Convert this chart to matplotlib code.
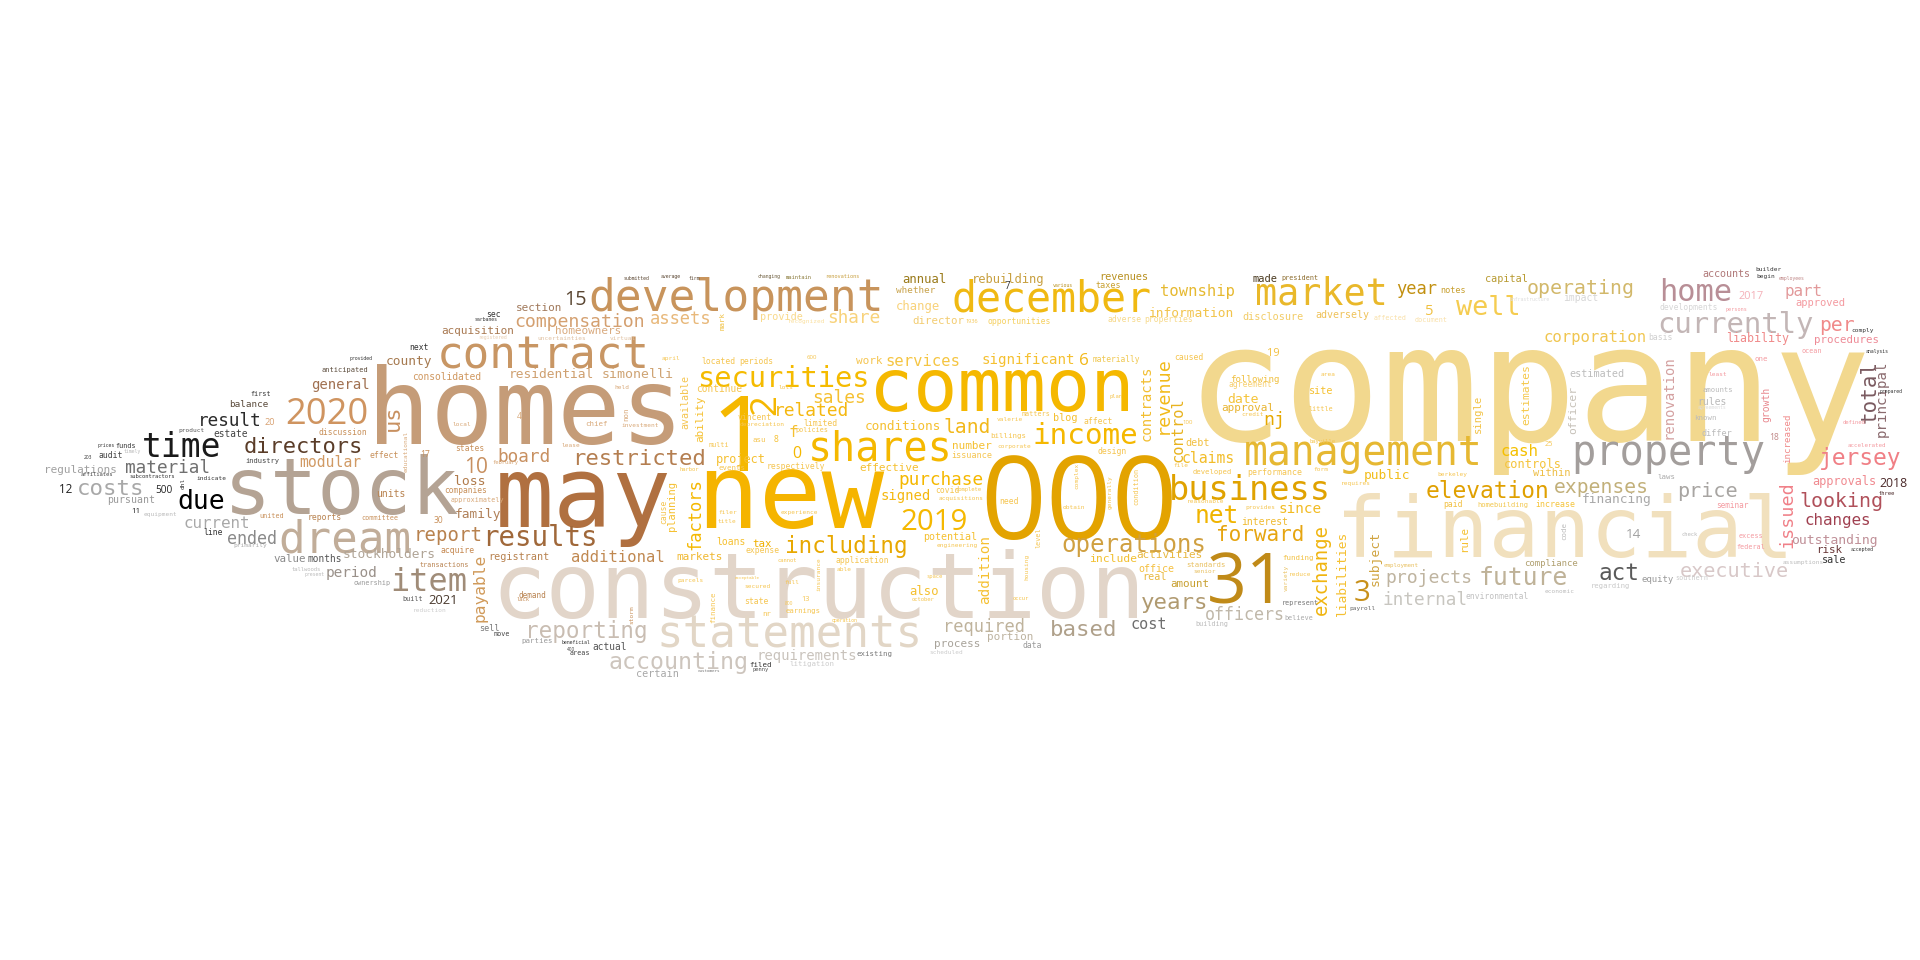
import matplotlib
matplotlib.use("Agg")
import matplotlib.pyplot as plt

# ---------------- data: words and their weights (font em, in layout units) ----------------
frequency = {
    "company": 133, "financial": 69, "construction": 74, "homes": 86, "stock": 64, "may": 80,
    "new": 85, "000": 94, "common": 60, "1": 86, "2": 30, "31": 57,
    "development": 36.5, "december": 34, "statements": 36, "contract": 36, "dream": 36,
    "shares": 32.7, "management": 32.5, "property": 33, "market": 30, "2020": 29.6,
    "business": 27.5, "time": 27, "item": 26, "securities": 23.5, "income": 24, "2019": 24,
    "currently": 23.6, "home": 24.8, "3": 24, "results": 22.5, "due": 21.6, "well": 22,
    "net": 20, "operations": 19.6, "future": 20.2, "reporting": 18.5, "accounting": 19,
    "including": 18.5, "elevation": 18.7, "jersey": 18.7, "directors": 18, "restricted": 18.2,
    "costs": 18.3, "years": 18.3, "based": 18.3, "act": 18.5, "forward": 17.2, "us": 18,
    "10": 17, "per": 16, "looking": 16.3, "price": 16.4, "expenses": 16, "executive": 16.4,
    "operating": 16.2, "report": 15.5, "exchange": 15.4, "revenue": 15, "total": 17,
    "issued": 15, "compensation": 14.8, "15": 16, "land": 16, "material": 14.5, "result": 14.4,
    "sales": 14.6, "related": 14.6, "purchase": 14.5, "share": 14.5, "assets": 14, "board": 14.5,
    "year": 14, "required": 13.9, "factors": 14, "projects": 14.8, "internal": 14.5,
    "officers": 13.6, "ended": 13.6, "current": 13, "payable": 13.3, "changes": 13, "cash": 13,
    "corporation": 12.8, "township": 12.7, "services": 12.7, "additional": 12.7, "control": 12.6,
    "cost": 12.4, "modular": 12, "claims": 12, "since": 11.7, "period": 11.7, "significant": 11.5,
    "addition": 11.6, "contracts": 11.3, "principal": 11.5, "renovation": 11.3,
    "requirements": 11.3, "signed": 11.3, "general": 11.3, "6": 14, "0": 13, "nj": 15,
    "information": 10.5, "residential": 10.5, "simonelli": 10.8, "county": 10.5, "family": 10.5,
    "stockholders": 10.5, "2021": 10.6, "loss": 10.6, "public": 10.5, "date": 10.7,
    "outstanding": 10.7, "liabilities": 10.5, "subject": 10.6, "conditions": 10.4,
    "financing": 10.5, "change": 10, "annual": 10, "rebuilding": 9.9, "also": 10, "2018": 10,
    "approvals": 9.7, "project": 9.7, "controls": 9.8, "section": 9, "acquisition": 9,
    "homeowners": 9, "regulations": 9, "markets": 9, "effective": 9, "approval": 9,
    "activities": 9, "number": 9, "process": 9, "portion": 9, "value": 8.9, "amount": 8.9,
    "risk": 8.9, "rule": 8.9, "liability": 9.5, "procedures": 8.8, "director": 8.8, "tax": 8.8,
    "estimates": 9.2, "officer": 9.3, "include": 9.3, "ability": 9, "single": 8.6, "within": 8.5,
    "approved": 8.5, "part": 13, "taxes": 7, "revenues": 8.4, "made": 8.5, "capital": 8.3,
    "accounts": 8.2, "disclosure": 8.3, "adversely": 8.2, "estimated": 8.3, "blog": 8.3,
    "site": 8.3, "debt": 8.3, "provide": 8.3, "available": 8.2, "potential": 8.2,
    "registrant": 8.3, "certain": 8.3, "500": 8.3, "office": 8.2, "real": 8.3, "pursuant": 8.1,
    "continue": 7.8, "loans": 8, "units": 8, "interest": 8, "consolidated": 7.9, "planning": 8.5,
    "estate": 7.8, "months": 7.8, "actual": 7.8, "balance": 7.6, "following": 7.5,
    "increased": 7.5, "compliance": 7.4, "equity": 7.4, "whether": 7.7, "rules": 8, "sell": 7,
    "20": 7.5, "18": 7, "14": 11, "12": 9.5, "5": 12, "19": 9, "f": 13, "8": 7, "asu": 6,
    "vincent": 6.6, "limited": 6.6, "respectively": 6.5, "located": 6.5, "periods": 6.5,
    "work": 9, "opportunities": 6.6, "materially": 6.4, "affect": 6.6, "design": 6.6,
    "caused": 6.6, "performance": 6.7, "developed": 5.9, "paid": 6.5, "homebuilding": 5.8,
    "increase": 6.7, "laws": 6, "seminar": 6.3, "amounts": 5.9, "known": 6, "differ": 7,
    "impact": 8, "developments": 6.5, "2017": 9, "basis": 6.6, "ocean": 5.5, "one": 6,
    "growth": 8, "25": 6, "accelerated": 4.8, "comply": 5, "regarding": 5.9,
    "environmental": 6.5, "standards": 5.9, "funding": 6, "payroll": 5, "earnings": 5.9,
    "state": 6.6, "13": 6, "expense": 6.5, "application": 6.5, "finance": 6, "data": 6.5,
    "existing": 6, "litigation": 6, "filed": 6, "sec": 6.5, "next": 6.5, "anticipated": 5.7,
    "discussion": 6.5, "effect": 6.6, "industry": 5.8, "audit": 6.6, "funds": 5.5,
    "product": 5, "first": 5.5, "11": 6.5, "line": 6.5, "states": 6.5, "17": 7,
    "companies": 6.4, "reports": 6.6, "committee": 5.5, "30": 7, "acquire": 6.6, "demand": 6.2,
    "transactions": 5.5, "ownership": 5.5, "built": 5.5, "move": 5.5, "parties": 6,
    "areas": 5.5, "primarily": 5, "approximately": 5.5, "united": 5.5, "equipment": 5,
    "chief": 6, "4": 7, "provided": 4, "sarbanes": 4, "uncertainties": 5, "virtual": 5,
    "registered": 4, "mark": 6, "recognized": 5, "billings": 6, "corporate": 5, "issuance": 7,
    "need": 6.5, "covid": 6.5, "events": 6, "harbor": 4.5, "cause": 6.5, "filer": 5,
    "title": 5, "experience": 5, "engineering": 5, "level": 5.5, "housing": 5, "october": 4.5,
    "occur": 4.5, "space": 4.5, "believe": 5.5, "building": 5.5, "represent": 5.5,
    "senior": 5, "variety": 5, "reduce": 5, "employment": 4.8, "economic": 5, "code": 6,
    "southern": 5.5, "check": 4.5, "excess": 5.5, "federal": 5.5, "sale": 8.3,
    "assumptions": 5, "accepted": 4, "requires": 5, "berkeley": 5, "reasonable": 5,
    "provides": 5, "obtain": 5, "condition": 5.5, "generally": 5, "complex": 5, "file": 5,
    "form": 5, "bayville": 4.5, "credit": 5, "agreement": 6.5, "little": 5.5, "area": 5,
    "plan": 4.5, "100": 5, "adverse": 6.5, "properties": 6.5, "affected": 5.5, "document": 5.5,
    "policies": 5.5, "depreciation": 5, "lots": 5, "april": 5, "600": 5, "1936": 4.5,
    "valerie": 5, "matters": 5.5, "multi": 5.5, "complete": 4.5, "acquisitions": 5,
    "investment": 5, "non": 6, "held": 5, "lease": 5, "february": 4.5, "local": 5,
    "educational": 5, "tallwoods": 4.5, "present": 4, "reduction": 5, "storm": 5, "lack": 4.5,
    "400": 4, "beneficial": 4, "scheduled": 5, "penny": 4.5, "customers": 3.5,
    "insurance": 5, "secured": 5, "parcels": 5, "full": 5, "cannot": 4.5, "able": 5,
    "acceptable": 3.5, "800": 4, "nr": 6, "operation": 4, "prices": 4, "203": 4,
    "affiliates": 4.5, "subcontractors": 4.5, "indicate": 5, "timely": 4, "dhl": 5,
    "submitted": 4, "average": 4, "firm": 4, "changing": 4, "maintain": 4.5,
    "renovations": 4.3, "7": 8, "various": 4, "president": 5.5, "notes": 6.9, "builder": 5,
    "begin": 5, "employees": 4, "persons": 4.2, "infrastructure": 4, "analysis": 4,
    "prepared": 4, "three": 4.5, "defined": 4.5, "least": 5, "agreements": 4,
}
words = list(frequency.keys())

# ---------------- style: colour of each word ----------------
GOLD_S = "#F5C550"
colors = {
    "company": "#F2D88E", "financial": "#F1E0BD", "construction": "#E2D5C9", "homes": "#C59C78",
    "stock": "#B4A394", "may": "#B07040", "new": "#F5B400", "000": "#E3A300", "common": "#F5B800",
    "1": "#F5B800", "2": "#F5B800", "31": "#C08A18", "development": "#C8945C",
    "december": "#F0B912", "statements": "#E2D6C6", "contract": "#C89664", "dream": "#C1AD99",
    "shares": "#F5B800", "management": "#E6B832", "property": "#A39E9C", "market": "#E9B82A",
    "2020": "#CF9460", "business": "#E0A200", "time": "#1A1A1A", "item": "#A08C78",
    "securities": "#F5BB00", "income": "#F5B800", "2019": "#F5B800", "currently": "#C3B6B6",
    "home": "#B88E96", "3": "#C8901A", "results": "#A0683A", "due": "#000000", "well": "#F5CC50",
    "net": "#F0B400", "operations": "#D0A040", "future": "#BFB298", "reporting": "#C9BDB2",
    "accounting": "#CDC5BD", "including": "#E8A800", "elevation": "#E0A000", "jersey": "#F07F85",
    "directors": "#5A3C28", "restricted": "#B47E50", "costs": "#A8A8A8", "years": "#B09A70",
    "based": "#AFA08A", "act": "#5A5A5A", "forward": "#E6A510", "us": "#C89060", "10": "#C89060",
    "per": "#F08A8A", "looking": "#B0505A", "price": "#A8A5A2", "expenses": "#C2B07A",
    "executive": "#D8C8C8", "operating": "#D2B86A", "report": "#B8824F", "exchange": "#F0B510",
    "revenue": "#F2BA1A", "total": "#7A5A60", "issued": "#F08088", "compensation": "#D4A070",
    "15": "#5A4632", "land": "#F2B81A", "material": "#707070", "result": "#2A2A2A",
    "sales": "#F5C030", "related": "#F5B810", "purchase": "#F5B800", "share": "#F8D27A",
    "assets": "#E8B87A", "board": "#C89060", "year": "#C29010", "required": "#BFB39C",
    "factors": "#F5B800", "projects": "#BFB4A0", "internal": "#C8C6C0", "officers": "#C0B8AA",
    "ended": "#8A8A8A", "current": "#A8A8A8", "payable": "#D09A5A", "changes": "#A04050",
    "cash": "#F5C000", "corporation": "#F0C650", "township": "#E6B930", "services": "#F5C542",
    "additional": "#C08850", "control": "#E8B320", "cost": "#6E6E6E", "modular": "#D19A64",
    "claims": "#F2BD2A", "since": "#F2BB22", "period": "#9A918A", "significant": "#F5C030",
    "addition": "#F5C030", "contracts": "#F2BE30", "principal": "#8A6A6E",
    "renovation": "#D4A0A0", "requirements": "#C9C3BC", "signed": "#F5B810",
    "general": "#A07050", "6": "#F2B81A", "0": "#F5B800", "nj": "#E6A800",
    "information": "#F2C44C", "residential": "#CFA070", "simonelli": "#CFA474",
    "county": "#A67A50", "family": "#B08058", "stockholders": "#B0A496", "2021": "#4A3A2E",
    "loss": "#B07A4A", "public": "#F2BD1A", "date": "#F5C43A", "outstanding": "#C09098",
    "liabilities": "#F5C030", "subject": "#D0A440", "conditions": "#F5C030",
    "financing": "#A9A9A9", "change": "#F8D27A", "annual": "#9A7A1A", "rebuilding": "#C8A040",
    "also": "#F5C030", "2018": "#4A2828", "approvals": "#F08A90", "project": "#F5C030",
    "controls": "#F5C43A", "section": "#A0785A", "acquisition": "#A87850",
    "homeowners": "#D9AA7E", "regulations": "#A0A0A0", "markets": "#F0B830",
    "effective": "#F5C030", "approval": "#E8B430", "activities": "#E8B840", "number": "#F5C030",
    "process": "#A8A39A", "portion": "#BDB3A0", "value": "#8A8A8A", "amount": "#C8A030",
    "risk": "#6A3838", "rule": "#F5C030", "liability": "#F08A8A", "procedures": "#EE8A96",
    "director": "#F3CC70", "tax": "#F0B000", "estimates": "#F5C84A", "officer": "#C6C1B8",
    "include": "#F2C030", "ability": "#F5C030", "single": "#F2C243", "within": "#EDBE45",
    "approved": "#F49AA0", "part": "#E2999A", "taxes": "#C8A030", "revenues": "#B89020",
    "made": "#4A3A20", "capital": "#B89A30", "accounts": "#B07878", "disclosure": "#F2CC66",
    "adversely": "#EFC259", "estimated": "#BDBDBD", "blog": "#F5C030", "site": "#F5C030",
    "debt": "#F2C040", "provide": "#F9D98A", "available": GOLD_S, "potential": "#F5C030",
    "registrant": "#B8824F", "certain": "#A8A8A8", "500": "#222222", "office": "#F5C040",
    "real": "#E8B840", "pursuant": "#999999", "continue": GOLD_S, "loans": "#F5C030",
    "units": "#B8824F", "interest": "#F0BA2E", "consolidated": "#D09860", "planning": "#F5C030",
    "estate": "#444444", "months": "#555555", "actual": "#555555", "balance": "#5A4A3A",
    "following": "#F0C040", "increased": "#F08A8A", "compliance": "#B0A070",
    "equity": "#999999", "whether": "#C8A24A", "rules": "#B9B9B9", "sell": "#7A7A7A",
    "20": "#D8A070", "18": "#C08888", "14": "#A0A0A0", "12": "#222222", "5": "#F0C040",
    "19": "#F2C040", "f": "#F5C030", "8": "#F5C030", "paid": "#F2C040", "homebuilding": "#F2C850",
    "increase": "#F5C43A", "laws": "#AAAAAA", "seminar": "#F49AA0", "amounts": "#BBBBBB",
    "known": "#BBBBBB", "differ": "#BBBBBB", "impact": "#D6D6D6", "developments": "#D6D6D6",
    "2017": "#F4B0B8", "basis": "#D0D0D0", "ocean": "#F49AA0", "one": "#F49AA0",
    "growth": "#E8878E", "accelerated": "#F49AA0", "comply": "#333333", "regarding": "#C8C8C8",
    "environmental": "#C0C0C0", "standards": "#E8C060", "funding": "#F2C040",
    "payroll": "#666666", "data": "#999999", "existing": "#777777", "litigation": "#CCCCCC",
    "filed": "#333333", "sec": "#333333", "next": "#333333", "anticipated": "#5A4A3A",
    "discussion": "#C8905A", "effect": "#C8905A", "industry": "#444444", "audit": "#444444",
    "funds": "#333333", "product": "#555555", "first": "#333333", "11": "#222222",
    "line": "#333333", "states": "#C8905A", "17": "#C8905A", "companies": "#C8905A",
    "reports": "#B8824F", "committee": "#C8905A", "30": "#C8905A", "acquire": "#C58850",
    "demand": "#B8824F", "transactions": "#B8824F", "ownership": "#999999", "built": "#555555",
    "move": "#444444", "parties": "#999999", "areas": "#444444", "primarily": "#AAAAAA",
    "approximately": "#D8A878", "united": "#C8905A", "equipment": "#BBBBBB", "chief": "#D8A878",
    "4": "#D8A878", "provided": "#333333", "sarbanes": "#333333", "uncertainties": "#E0C0A0",
    "virtual": "#E0C0A0", "registered": "#E8CDB0", "mark": "#F0C040", "recognized": "#FAE0A0",
    "believe": "#AAAAAA", "building": "#BBBBBB", "represent": "#777777", "senior": "#E8C060",
    "variety": "#E8C060", "employment": "#E8C060", "economic": "#BBBBBB", "code": "#BBBBBB",
    "southern": "#CCCCCC", "check": "#BBBBBB", "excess": "#F49AA0", "federal": "#F49AA0",
    "sale": "#333333", "assumptions": "#BBBBBB", "accepted": "#333333", "investment": "#D8A878",
    "non": "#D8A878", "held": "#D8A878", "lease": "#D8A878", "february": "#D8A878",
    "local": "#D8A878", "educational": "#D8A878", "tallwoods": "#BBBBBB", "present": "#BBBBBB",
    "reduction": "#CCCCCC", "storm": "#C8905A", "lack": "#C8905A", "400": "#444444",
    "beneficial": "#333333", "scheduled": "#CCCCCC", "penny": "#555555", "customers": "#777777",
    "prices": "#333333", "203": "#333333", "affiliates": "#444444", "subcontractors": "#333333",
    "indicate": "#333333", "timely": "#BBBBBB", "dhl": "#333333", "submitted": "#5A4632",
    "average": "#5A4632", "firm": "#5A4632", "changing": "#6A5A3A", "maintain": "#8A7A3A",
    "renovations": "#C8A040", "7": "#333333", "various": "#B89020", "president": "#8A6A2A",
    "notes": "#C8A030", "builder": "#333333", "begin": "#333333", "employees": "#C08888",
    "persons": "#F49AA0", "infrastructure": "#DDDDDD", "analysis": "#333333",
    "prepared": "#333333", "three": "#4A2828", "defined": "#F49AA0", "least": "#F49AA0",
    "agreements": "#DDDDDD", "adverse": "#F7D98A", "properties": "#F7D98A",
    "affected": "#F9E0A8", "document": "#F9E0A8", "agreement": "#F7D070", "opportunities": "#F5D060",
    "materially": "#F0C850",
}

# ---------------- layout: anchor (baseline centre) in reference grid units, rotation ----------------
layout = {
    "company": (1248, 360, 0), "financial": (1278, 455, 0), "construction": (668, 505, 0),
    "homes": (429, 363, 0), "stock": (279, 420, 0), "may": (476, 430, 0), "new": (645, 431, 0),
    "000": (881, 440, 0), "common": (818, 336, 0), "1": (605, 385, 0), "2": (633, 330, 90),
    "31": (1018, 493, 0), "development": (601, 254, 0), "december": (859, 254, 0),
    "statements": (645, 529, 0), "contract": (444, 301, 0), "dream": (282, 451, 0),
    "shares": (719, 376, 0), "management": (1113, 380, 0), "property": (1362, 380, 0),
    "market": (1079, 249, 0), "2020": (267, 346, 0), "business": (1021, 408, 0),
    "time": (148, 373, 0), "item": (350, 483, 0), "securities": (640, 316, 0),
    "income": (886, 363, 0), "2019": (763, 433, 0), "currently": (1417, 272, 0),
    "home": (1385, 246, 0), "3": (1112, 491, 0), "results": (441, 446, 0), "due": (164, 416, 0),
    "well": (1215, 257, 0), "net": (994, 427, 0), "operations": (926, 451, 0),
    "future": (1244, 478, 0), "reporting": (479, 521, 0), "accounting": (554, 546, 0),
    "including": (691, 452, 0), "elevation": (1215, 407, 0), "jersey": (1519, 380, 0),
    "directors": (248, 370, 0), "restricted": (522, 380, 0), "costs": (90, 404, 0),
    "years": (959, 497, 0), "based": (885, 519, 0), "act": (1322, 474, 0),
    "forward": (1029, 442, 0), "us": (326, 341, 90), "10": (389, 386, 0), "per": (1500, 270, 0),
    "looking": (1504, 414, 0), "price": (1394, 406, 0), "expenses": (1308, 403, 0),
    "executive": (1416, 471, 0), "operating": (1291, 240, 0), "report": (366, 442, 0),
    "exchange": (1084, 465, 90), "revenue": (954, 323, 90), "total": (1532, 320, 90),
    "issued": (1464, 420, 90), "compensation": (473, 267, 0), "15": (470, 249, 0),
    "land": (790, 354, 0), "material": (137, 386, 0), "result": (188, 348, 0),
    "sales": (685, 329, 0), "related": (663, 340, 0), "purchase": (768, 396, 0),
    "share": (697, 264, 0), "assets": (556, 265, 0), "board": (428, 377, 0),
    "year": (1157, 240, 0), "required": (804, 516, 0), "factors": (572, 420, 90),
    "projects": (1167, 476, 0), "internal": (1164, 494, 0), "officers": (1017, 506, 0),
    "ended": (206, 444, 0), "current": (177, 431, 0), "payable": (396, 480, 90),
    "changes": (1501, 429, 0), "cash": (1241, 372, 0), "corporation": (1303, 279, 0),
    "township": (978, 242, 0), "services": (754, 299, 0), "additional": (505, 459, 0),
    "control": (966, 351, 90), "cost": (938, 514, 0), "modular": (270, 381, 0),
    "claims": (987, 378, 0), "since": (1062, 419, 0), "period": (287, 471, 0),
    "significant": (840, 297, 0), "addition": (808, 465, 90), "contracts": (940, 329, 90),
    "principal": (1540, 326, 90), "renovation": (1366, 324, 90), "requirements": (659, 539, 0),
    "signed": (740, 408, 0), "general": (278, 318, 0), "6": (885, 298, 0), "0": (651, 374, 0),
    "nj": (1041, 347, 0), "information": (973, 259, 0), "residential": (450, 309, 0),
    "simonelli": (521, 309, 0), "county": (334, 298, 0), "family": (390, 423, 0),
    "stockholders": (318, 456, 0), "2021": (362, 493, 0), "loss": (384, 396, 0),
    "public": (1133, 391, 0), "date": (1015, 329, 0), "outstanding": (1498, 444, 0),
    "liabilities": (1099, 468, 90), "subject": (1126, 456, 90), "conditions": (737, 351, 0),
    "financing": (1320, 411, 0), "change": (750, 253, 0), "annual": (755, 231, 0),
    "rebuilding": (823, 231, 0), "also": (755, 486, 0), "2018": (1546, 398, 0),
    "approvals": (1506, 396, 0), "project": (605, 378, 0), "controls": (1252, 382, 0),
    "section": (440, 254, 0), "acquisition": (390, 273, 0), "homeowners": (480, 273, 0),
    "regulations": (66, 386, 0), "markets": (571, 457, 0), "effective": (726, 385, 0),
    "approval": (1019, 336, 0), "activities": (955, 456, 0), "number": (794, 367, 0),
    "process": (782, 528, 0), "portion": (825, 523, 0), "value": (237, 459, 0),
    "amount": (972, 479, 0), "risk": (1494, 452, 0), "rule": (1198, 440, 90),
    "liability": (1435, 279, 0), "procedures": (1508, 280, 0), "director": (766, 265, 0),
    "tax": (622, 447, 0), "estimates": (1249, 322, 90), "officer": (1287, 335, 90),
    "include": (909, 459, 0), "ability": (574, 342, 90), "single": (1209, 338, 90),
    "within": (1267, 389, 0), "approved": (1487, 250, 0), "part": (1473, 242, 0),
    "taxes": (905, 235, 0), "revenues": (918, 229, 0), "made": (1033, 230, 0),
    "capital": (1230, 230, 0), "accounts": (1410, 226, 0), "disclosure": (1040, 261, 0),
    "adversely": (1096, 260, 0), "estimated": (1304, 308, 0), "blog": (870, 344, 0),
    "site": (1079, 322, 0), "debt": (978, 364, 0), "provide": (638, 261, 0),
    "available": (562, 328, 90), "potential": (776, 441, 0), "registrant": (424, 457, 0),
    "certain": (537, 553, 0), "500": (134, 403, 0), "office": (944, 467, 0),
    "real": (943, 474, 0), "pursuant": (107, 411, 0), "continue": (587, 320, 0),
    "loans": (597, 445, 0), "units": (319, 406, 0), "interest": (1033, 429, 0),
    "consolidated": (365, 310, 0), "planning": (551, 413, 90), "estate": (188, 357, 0),
    "months": (265, 459, 0), "actual": (498, 531, 0), "balance": (203, 332, 0),
    "following": (1025, 312, 0), "increased": (1462, 358, 90), "compliance": (1267, 462, 0),
    "equity": (1354, 475, 0), "whether": (748, 239, 0), "rules": (1398, 331, 0),
    "sell": (400, 515, 0), "20": (220, 347, 0), "18": (1449, 359, 0), "14": (1334, 439, 0),
    "12": (54, 403, 0), "5": (1167, 257, 0), "19": (1040, 291, 0), "f": (648, 357, 0),
    "8": (634, 361, 0), "asu": (620, 361, 0), "vincent": (616, 343, 0), "limited": (670, 348, 0),
    "respectively": (650, 383, 0), "located": (587, 297, 0), "periods": (618, 297, 0),
    "work": (710, 297, 0), "opportunities": (832, 265, 0), "materially": (912, 296, 0),
    "affect": (897, 346, 0), "design": (908, 371, 0), "caused": (971, 294, 0),
    "performance": (1041, 388, 0), "developed": (990, 387, 0), "paid": (1187, 414, 0),
    "homebuilding": (1227, 414, 0), "increase": (1270, 414, 0), "laws": (1361, 391, 0),
    "seminar": (1415, 415, 0), "amounts": (1403, 320, 0), "known": (1393, 343, 0),
    "differ": (1402, 356, 0), "impact": (1291, 246, 0), "developments": (1379, 253, 0),
    "2017": (1430, 244, 0), "basis": (1356, 278, 0), "ocean": (1480, 288, 0),
    "one": (1438, 295, 0), "growth": (1445, 330, 90), "25": (1265, 364, 0),
    "accelerated": (1525, 365, 0), "comply": (1521, 271, 0), "regarding": (1315, 480, 0),
    "environmental": (1223, 489, 0), "standards": (985, 463, 0), "funding": (1060, 457, 0),
    "payroll": (1113, 498, 0), "earnings": (656, 501, 0), "state": (618, 493, 0),
    "13": (658, 491, 0), "expense": (623, 452, 0), "application": (704, 460, 0),
    "finance": (584, 496, 90), "data": (843, 529, 0), "existing": (714, 536, 0),
    "litigation": (663, 544, 0), "filed": (621, 545, 0), "sec": (403, 259, 0),
    "next": (342, 286, 0), "anticipated": (282, 304, 0), "discussion": (280, 355, 0),
    "effect": (314, 374, 0), "industry": (214, 378, 0), "audit": (90, 374, 0),
    "funds": (103, 366, 0), "product": (156, 353, 0), "first": (213, 323, 0),
    "11": (111, 419, 0), "line": (174, 437, 0), "states": (384, 368, 0), "17": (347, 373, 0),
    "companies": (380, 403, 0), "reports": (265, 425, 0), "committee": (310, 425, 0),
    "30": (358, 427, 0), "acquire": (374, 452, 0), "demand": (435, 488, 0),
    "transactions": (363, 463, 0), "ownership": (304, 478, 0), "built": (337, 491, 0),
    "move": (410, 519, 0), "parties": (439, 525, 0), "areas": (474, 535, 0),
    "primarily": (204, 447, 0), "approximately": (390, 410, 0), "united": (222, 423, 0),
    "equipment": (131, 421, 0), "chief": (487, 348, 0), "4": (424, 342, 0),
    "provided": (295, 294, 0), "sarbanes": (397, 262, 0), "uncertainties": (459, 278, 0),
    "virtual": (509, 278, 0), "registered": (402, 277, 0), "mark": (592, 262, 90),
    "recognized": (659, 264, 0), "billings": (823, 358, 0), "corporate": (828, 366, 0),
    "issuance": (794, 374, 0), "need": (824, 412, 0), "covid": (774, 403, 0),
    "events": (598, 384, 0), "harbor": (563, 385, 0), "cause": (544, 418, 90),
    "filer": (594, 420, 0), "title": (594, 427, 0), "experience": (653, 420, 0),
    "engineering": (782, 447, 0), "level": (850, 439, 90), "housing": (840, 463, 90),
    "october": (754, 491, 0), "occur": (834, 490, 0), "space": (763, 472, 0),
    "believe": (1061, 506, 0), "building": (990, 511, 0), "represent": (1062, 494, 0),
    "senior": (984, 468, 0), "variety": (1052, 472, 90), "reduce": (1062, 470, 0),
    "employment": (1144, 463, 0), "economic": (1274, 484, 0), "code": (1279, 434, 90),
    "southern": (1382, 474, 0), "check": (1380, 438, 0), "excess": (1430, 439, 0),
    "federal": (1430, 448, 0), "sale": (1498, 460, 0), "assumptions": (1473, 461, 0),
    "accepted": (1521, 450, 0), "requires": (1107, 396, 0), "berkeley": (1186, 389, 0),
    "reasonable": (985, 411, 0), "provides": (1029, 416, 0), "obtain": (877, 416, 0),
    "condition": (930, 397, 90), "generally": (908, 402, 90), "complex": (881, 389, 90),
    "file": (964, 381, 0), "form": (1079, 385, 0), "bayville": (1080, 362, 0),
    "credit": (1023, 340, 0), "agreement": (1021, 316, 0), "little": (1079, 336, 0),
    "area": (1085, 307, 0), "plan": (911, 325, 0), "100": (970, 346, 0),
    "adverse": (918, 263, 0), "properties": (954, 263, 0), "affected": (1135, 261, 0),
    "document": (1169, 263, 0), "policies": (663, 353, 0), "depreciation": (622, 348, 0),
    "lots": (642, 318, 0), "april": (548, 294, 0), "600": (663, 293, 0), "1936": (794, 264, 0),
    "valerie": (825, 344, 0), "matters": (846, 340, 0), "multi": (587, 365, 0),
    "complete": (791, 401, 0), "acquisitions": (785, 408, 0), "investment": (523, 349, 0),
    "non": (513, 338, 90), "held": (508, 318, 0), "lease": (466, 365, 0),
    "february": (413, 379, 0), "local": (377, 348, 0), "educational": (333, 369, 90),
    "tallwoods": (250, 466, 0), "present": (257, 470, 0), "reduction": (351, 500, 0),
    "storm": (517, 502, 90), "lack": (427, 491, 0), "400": (466, 532, 0),
    "beneficial": (470, 526, 0), "scheduled": (773, 534, 0), "penny": (621, 548, 0),
    "customers": (579, 549, 0), "insurance": (670, 469, 90), "secured": (619, 480, 0),
    "parcels": (564, 475, 0), "full": (647, 477, 0), "cannot": (643, 459, 0),
    "able": (689, 466, 0), "acceptable": (610, 473, 0), "800": (644, 494, 0),
    "nr": (626, 503, 0), "operation": (690, 508, 0), "prices": (87, 365, 0),
    "203": (72, 375, 0), "affiliates": (79, 389, 0), "subcontractors": (124, 390, 0),
    "indicate": (173, 392, 0), "timely": (108, 370, 0), "dhl": (151, 395, 90),
    "submitted": (520, 229, 0), "average": (548, 227, 0), "firm": (567, 229, 0),
    "changing": (628, 227, 0), "maintain": (652, 228, 0), "renovations": (688, 227, 0),
    "7": (823, 236, 0), "various": (868, 234, 0), "president": (1062, 229, 0),
    "notes": (1187, 239, 0), "builder": (1444, 221, 0), "begin": (1442, 227, 0),
    "employees": (1463, 229, 0), "persons": (1418, 254, 0), "infrastructure": (1249, 246, 0),
    "analysis": (1533, 288, 0), "prepared": (1544, 321, 0), "three": (1541, 404, 0),
    "defined": (1514, 346, 0), "least": (1403, 307, 0), "agreements": (1398, 334, 0),
}

# ---------------- drawing ----------------
W, H = 1568, 784           # reference grid
PX_PER_UNIT = 1920 / W     # output pixels per grid unit
DPI = 100
WORD_FONT = ["DejaVu Sans Mono"]
NUM_FONT = ["Open Sans", "DejaVu Sans"]   # plain (undotted) zeros, unserifed 1

fig = plt.figure(figsize=(19.2, 9.6), dpi=DPI, facecolor="white")
ax = fig.add_axes([0, 0, 1, 1])
ax.set_xlim(0, W)
ax.set_ylim(H, 0)
ax.axis("off")

for w in words:
    x, y, rot = layout[w]
    em = frequency[w]
    ax.text(x, y, w, fontsize=em * PX_PER_UNIT * 72 / DPI, color=colors.get(w, GOLD_S),
            family=NUM_FONT if w.isdigit() else WORD_FONT, ha="center", va="baseline",
            rotation=rot, rotation_mode="anchor")

fig.savefig("out.png", dpi=DPI, facecolor="white")
